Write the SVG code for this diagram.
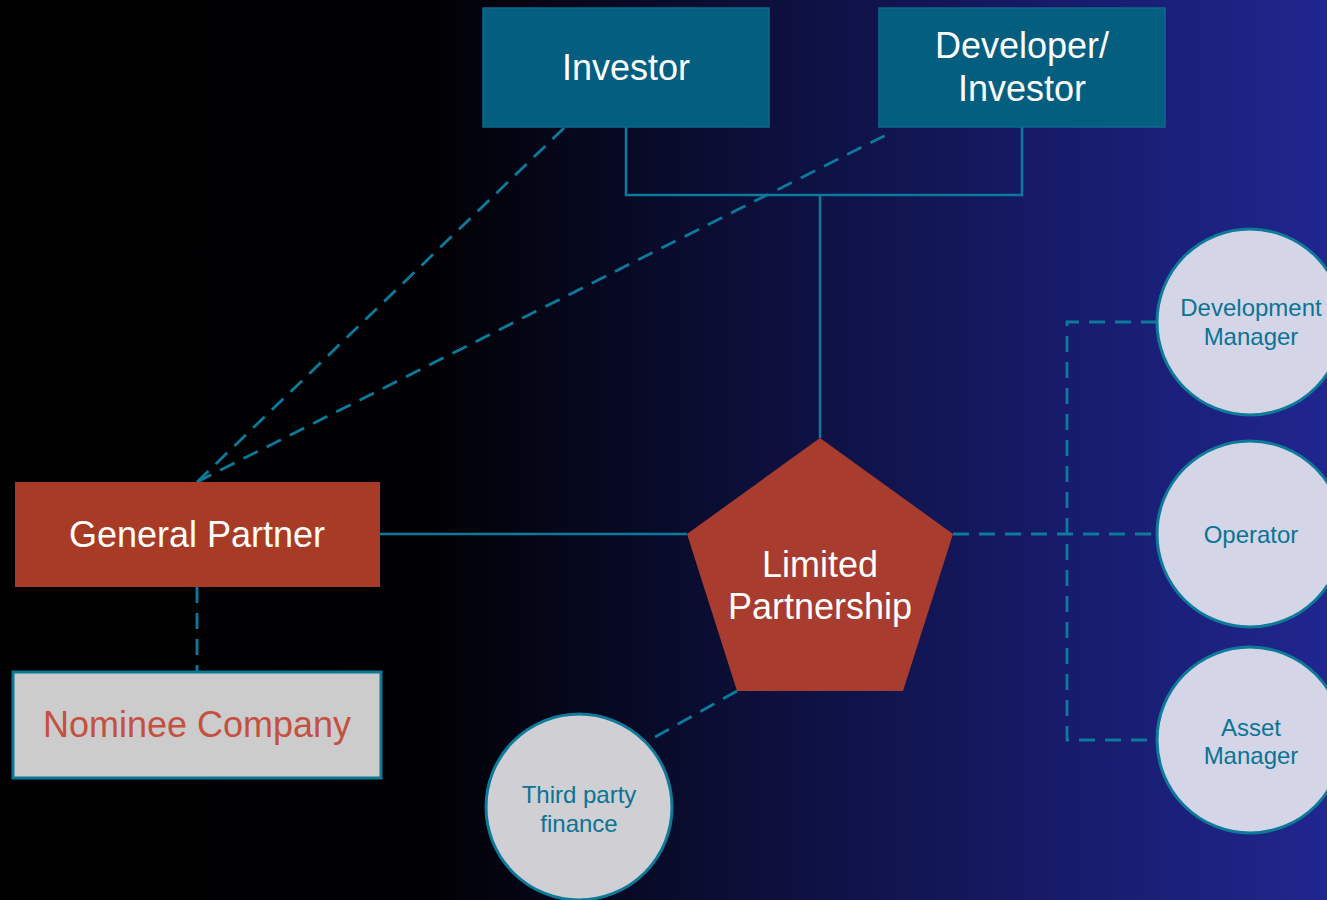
<svg xmlns="http://www.w3.org/2000/svg" width="1327" height="900" viewBox="0 0 1327 900">
<defs>
<linearGradient id="bg" x1="0" y1="0" x2="1327" y2="0" gradientUnits="userSpaceOnUse">
<stop offset="0" stop-color="#000000"/>
<stop offset="0.33" stop-color="#010105"/>
<stop offset="0.55" stop-color="#0b0e35"/>
<stop offset="0.8" stop-color="#171b6a"/>
<stop offset="1" stop-color="#20268f"/>
</linearGradient>
<style>
.conn{fill:none;stroke:#0b7a9c;stroke-width:2.5}
.dash{stroke-width:2.8;stroke-dasharray:16 10}
.box{fill:#035e80;stroke:#0a6a8c;stroke-width:1.5}
.red{fill:#a83b26}
.white{font-family:"Liberation Sans",Arial,sans-serif;fill:#ffffff;font-size:36px;text-anchor:middle}
.circ{stroke:#0e7a9a;stroke-width:3}
.ctext{font-family:"Liberation Sans",Arial,sans-serif;fill:#0b7395;font-size:24px;text-anchor:middle}
</style>
</defs>
<rect x="0" y="0" width="1327" height="900" fill="url(#bg)"/>
<g id="connectors">
<polyline class="conn" points="626,127 626,195 1022,195 1022,127"/>
<line class="conn" x1="820" y1="195" x2="820" y2="438"/>
<line class="conn" x1="380" y1="534" x2="687" y2="534"/>
<line class="conn dash" x1="197" y1="482" x2="565" y2="127"/>
<line class="conn dash" x1="197" y1="482" x2="892" y2="132"/>
<line class="conn dash" x1="197" y1="587" x2="197" y2="672"/>
<line class="conn dash" x1="737" y1="691" x2="655" y2="737"/>
<line class="conn dash" x1="953" y1="534" x2="1157" y2="534"/>
<polyline class="conn dash" points="1157,322 1067,322 1067,740 1157,740"/>
</g>
<g id="investor">
<rect class="box" x="483" y="8" width="286" height="119"/>
<text class="white" x="626" y="80">Investor</text>
</g>
<g id="developer">
<rect class="box" x="879" y="8" width="286" height="119"/>
<text class="white" x="1022" y="58">Developer/</text>
<text class="white" x="1022" y="101">Investor</text>
</g>
<g id="general-partner">
<rect class="red" x="15" y="482" width="365" height="105"/>
<text class="white" x="197" y="547">General Partner</text>
</g>
<g id="nominee">
<rect x="13" y="672" width="368" height="106" fill="#cccccc" stroke="#0a7898" stroke-width="3"/>
<text x="197" y="737" font-family="Liberation Sans, Arial, sans-serif" font-size="36" fill="#c4503f" text-anchor="middle">Nominee Company</text>
</g>
<g id="limited-partnership">
<polygon points="820,438 953,534 903,691 737,691 687,534" fill="#a83c2e"/>
<text class="white" x="820" y="577">Limited</text>
<text class="white" x="820" y="619">Partnership</text>
</g>
<g id="third-party">
<circle class="circ" cx="579" cy="807" r="93" fill="#cfcfd4"/>
<text class="ctext" x="579" y="803">Third party</text>
<text class="ctext" x="579" y="832">finance</text>
</g>
<g id="development-manager">
<circle class="circ" cx="1250" cy="322" r="93" fill="#d4d6e8"/>
<text class="ctext" x="1251" y="316">Development</text>
<text class="ctext" x="1251" y="345">Manager</text>
</g>
<g id="operator">
<circle class="circ" cx="1250" cy="534" r="93" fill="#d4d6e8"/>
<text class="ctext" x="1251" y="543">Operator</text>
</g>
<g id="asset-manager">
<circle class="circ" cx="1250" cy="740" r="93" fill="#d4d6e8"/>
<text class="ctext" x="1251" y="736">Asset</text>
<text class="ctext" x="1251" y="764">Manager</text>
</g>
</svg>
